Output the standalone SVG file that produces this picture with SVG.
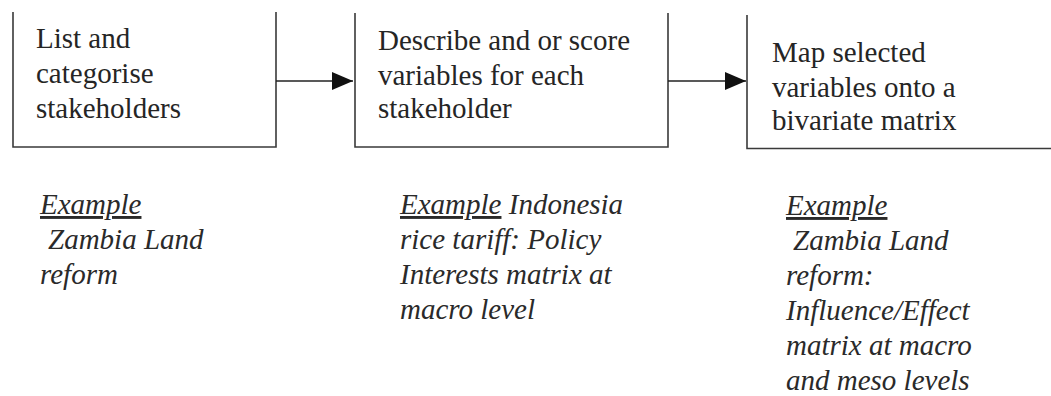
<svg xmlns="http://www.w3.org/2000/svg" width="1051" height="396" viewBox="0 0 1051 396">
<defs>
<marker id="arr" markerWidth="22" markerHeight="18" refX="21" refY="9" orient="auto" markerUnits="userSpaceOnUse">
<path d="M0,0 L21,9 L0,18 Z" fill="#111"/>
</marker>
</defs>
<rect width="1051" height="396" fill="#ffffff"/>
<g id="node1" font-family="Liberation Serif" font-size="29" fill="#252525">
<path d="M13,12 V147 H276 V12" fill="none" stroke="#3a3a3a" stroke-width="1.6"/>
<text x="36" y="48">List and</text>
<text x="36" y="83">categorise</text>
<text x="36" y="118">stakeholders</text>
</g>
<g id="node2" font-family="Liberation Serif" font-size="29" fill="#252525">
<path d="M355,13 V147 H668 V13" fill="none" stroke="#3a3a3a" stroke-width="1.6"/>
<text x="378" y="50">Describe and or score</text>
<text x="378" y="85">variables for each</text>
<text x="378" y="118">stakeholder</text>
</g>
<g id="node3" font-family="Liberation Serif" font-size="29" fill="#252525">
<path d="M747,15 V148.5 H1051" fill="none" stroke="#3a3a3a" stroke-width="1.6"/>
<text x="772" y="62">Map selected</text>
<text x="772" y="97">variables onto a</text>
<text x="772" y="130">bivariate matrix</text>
</g>
<g id="connectors" stroke="#222" stroke-width="1.6" fill="none">
<line x1="276" y1="81" x2="353" y2="81" marker-end="url(#arr)"/>
<line x1="668" y1="81" x2="746" y2="81" marker-end="url(#arr)"/>
</g>
<g id="example1" font-family="Liberation Serif" font-size="29" font-style="italic" fill="#2a2a2a">
<text x="40" y="214" text-decoration="underline">Example</text>
<text x="48" y="249">Zambia Land</text>
<text x="40" y="284">reform</text>
</g>
<g id="example2" font-family="Liberation Serif" font-size="29" font-style="italic" fill="#2a2a2a">
<text x="400" y="214"><tspan text-decoration="underline">Example</tspan> Indonesia</text>
<text x="400" y="249">rice tariff: Policy</text>
<text x="400" y="284">Interests matrix at</text>
<text x="400" y="319">macro level</text>
</g>
<g id="example3" font-family="Liberation Serif" font-size="29" font-style="italic" fill="#2a2a2a">
<text x="786" y="215" text-decoration="underline">Example</text>
<text x="793" y="250">Zambia Land</text>
<text x="786" y="285">reform:</text>
<text x="786" y="320">Influence/Effect</text>
<text x="786" y="355">matrix at macro</text>
<text x="786" y="390">and meso levels</text>
</g>
</svg>
